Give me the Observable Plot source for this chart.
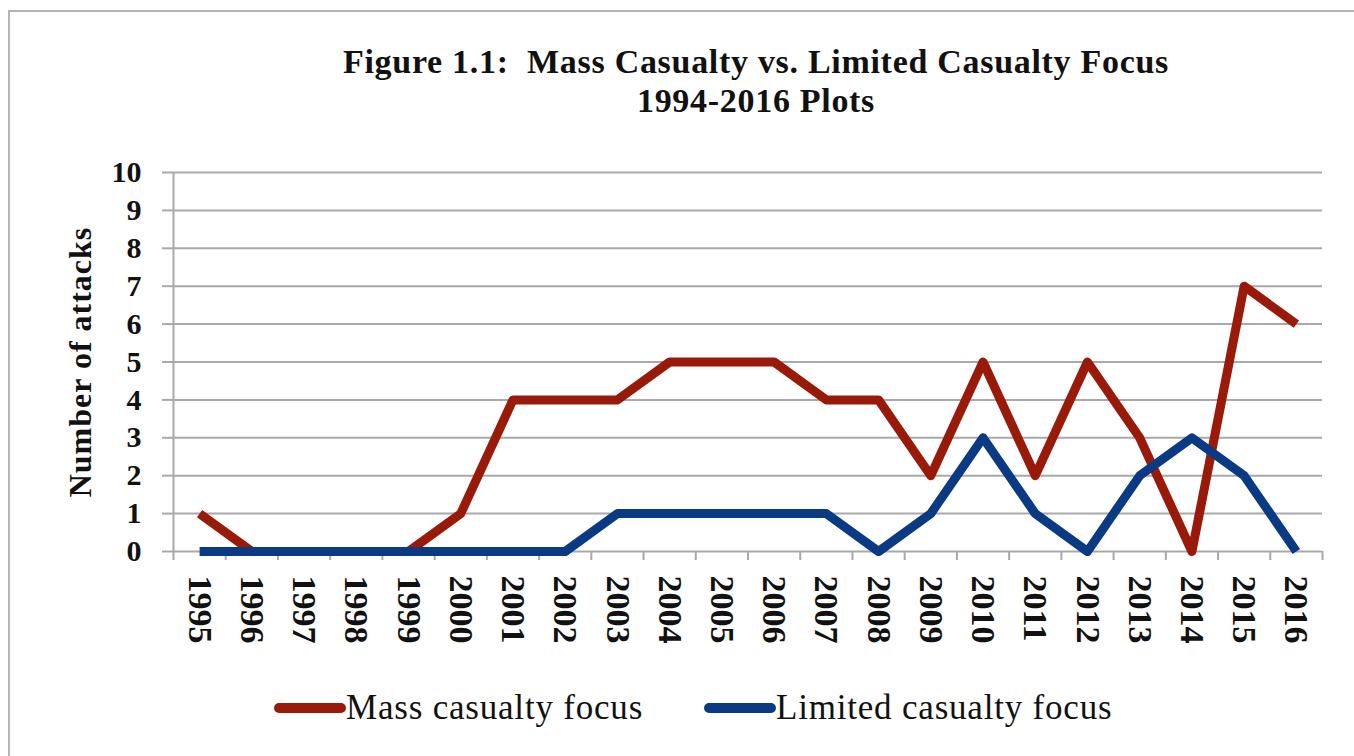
<!DOCTYPE html>
<html>
<head>
<meta charset="utf-8">
<script src="https://cdn.jsdelivr.net/npm/d3@7"></script>
<script src="https://cdn.jsdelivr.net/npm/@observablehq/plot@0.6"></script>
<style>
  html, body { margin: 0; padding: 0; background: #fff; }
  #wrap { position: relative; width: 1354px; height: 756px; overflow: hidden; background: #fff; font-family: "Liberation Serif", "DejaVu Serif", serif; }
  #frame { position: absolute; left: 8px; top: 10px; width: 1500px; height: 900px; border: 2px solid #b4b4b4; box-sizing: border-box; }
  #title { position: absolute; left: 206px; width: 1100px; top: 42px; text-align: center; font-weight: bold; font-size: 34px; line-height: 39px; letter-spacing: 0.7px; color: #111; white-space: nowrap; }
  #plot { position: absolute; left: 0; top: 140px; }
  #ytitle { position: absolute; left: 80px; top: 362px; transform: translate(-50%, -50%) rotate(-90deg); font-weight: bold; font-size: 32px; letter-spacing: 1px; white-space: nowrap; color: #111; }
  .leg { position: absolute; top: 688px; display: flex; align-items: center; font-size: 35px; letter-spacing: 0.8px; color: #111; white-space: nowrap; }
  .sw { width: 72px; height: 10px; border-radius: 5px; }
</style>
</head>
<body>
<div id="wrap">
  <div id="frame"></div>
  <div id="title">Figure 1.1:&nbsp; Mass Casualty vs. Limited Casualty Focus<br>1994-2016 Plots</div>
  <div id="ytitle">Number of attacks</div>
  <div id="plot"></div>
  <div class="leg" style="left:274px"><div class="sw" style="background:#9a1a0a"></div><span>Mass casualty focus</span></div>
  <div class="leg" style="left:704px"><div class="sw" style="background:#0b3a84"></div><span>Limited casualty focus</span></div>
</div>
<script>
const years = [1995,1996,1997,1998,1999,2000,2001,2002,2003,2004,2005,2006,2007,2008,2009,2010,2011,2012,2013,2014,2015,2016];
const massCasualty = [1,0,0,0,0,1,4,4,4,5,5,5,4,4,2,5,2,5,3,0,7,6];
const limitedCasualty = [0,0,0,0,0,0,0,0,1,1,1,1,1,0,1,3,1,0,2,3,2,0];
const yTicks = [0,1,2,3,4,5,6,7,8,9,10];
const seriesNames = ["Mass casualty focus", "Limited casualty focus"];
const seriesColors = ["#9a1a0a", "#0b3a84"];

const data = [];
years.forEach((yr, i) => {
  data.push({year: yr, value: massCasualty[i], series: seriesNames[0]});
});
years.forEach((yr, i) => {
  data.push({year: yr, value: limitedCasualty[i], series: seriesNames[1]});
});
const boundaries = [years[0] - 0.5, ...years.map(y => y + 0.5)];

const chart = Plot.plot({
  width: 1354,
  height: 520,
  marginLeft: 173,
  marginRight: 32,
  marginTop: 32,
  marginBottom: 109,
  style: {fontFamily: "'Liberation Serif', 'DejaVu Serif', serif", background: "transparent", color: "#111"},
  x: {type: "linear", domain: [years[0] - 0.5, years[years.length - 1] + 0.5]},
  y: {domain: [0, 10]},
  color: {domain: seriesNames, range: seriesColors},
  marks: [
    Plot.ruleY(yTicks, {stroke: "#a9a9a9", strokeWidth: 2}),
    Plot.ruleX([years[0] - 0.5], {y1: 0, y2: 10, stroke: "#a9a9a9", strokeWidth: 2}),
    Plot.axisY({ticks: yTicks, tickSize: 11, tickPadding: 21, stroke: "#a9a9a9", strokeWidth: 2, fill: "#111", fontSize: 30, fontWeight: "bold", label: null, tickFormat: d => String(d)}),
    Plot.axisX({ticks: boundaries, tickSize: 9, stroke: "#a9a9a9", strokeWidth: 2, tickFormat: () => "", label: null}),
    Plot.axisX({ticks: years, tickSize: 0, tickPadding: 24, tickRotate: 90, textAnchor: "start", fill: "#111", fontSize: 34, fontWeight: "bold", label: null, tickFormat: d => String(d)}),
    Plot.line(data, {x: "year", y: "value", z: "series", stroke: "series", strokeWidth: 9, strokeLinejoin: "round", strokeLinecap: "butt"})
  ]
});
document.getElementById("plot").appendChild(chart);
</script>
</body>
</html>
